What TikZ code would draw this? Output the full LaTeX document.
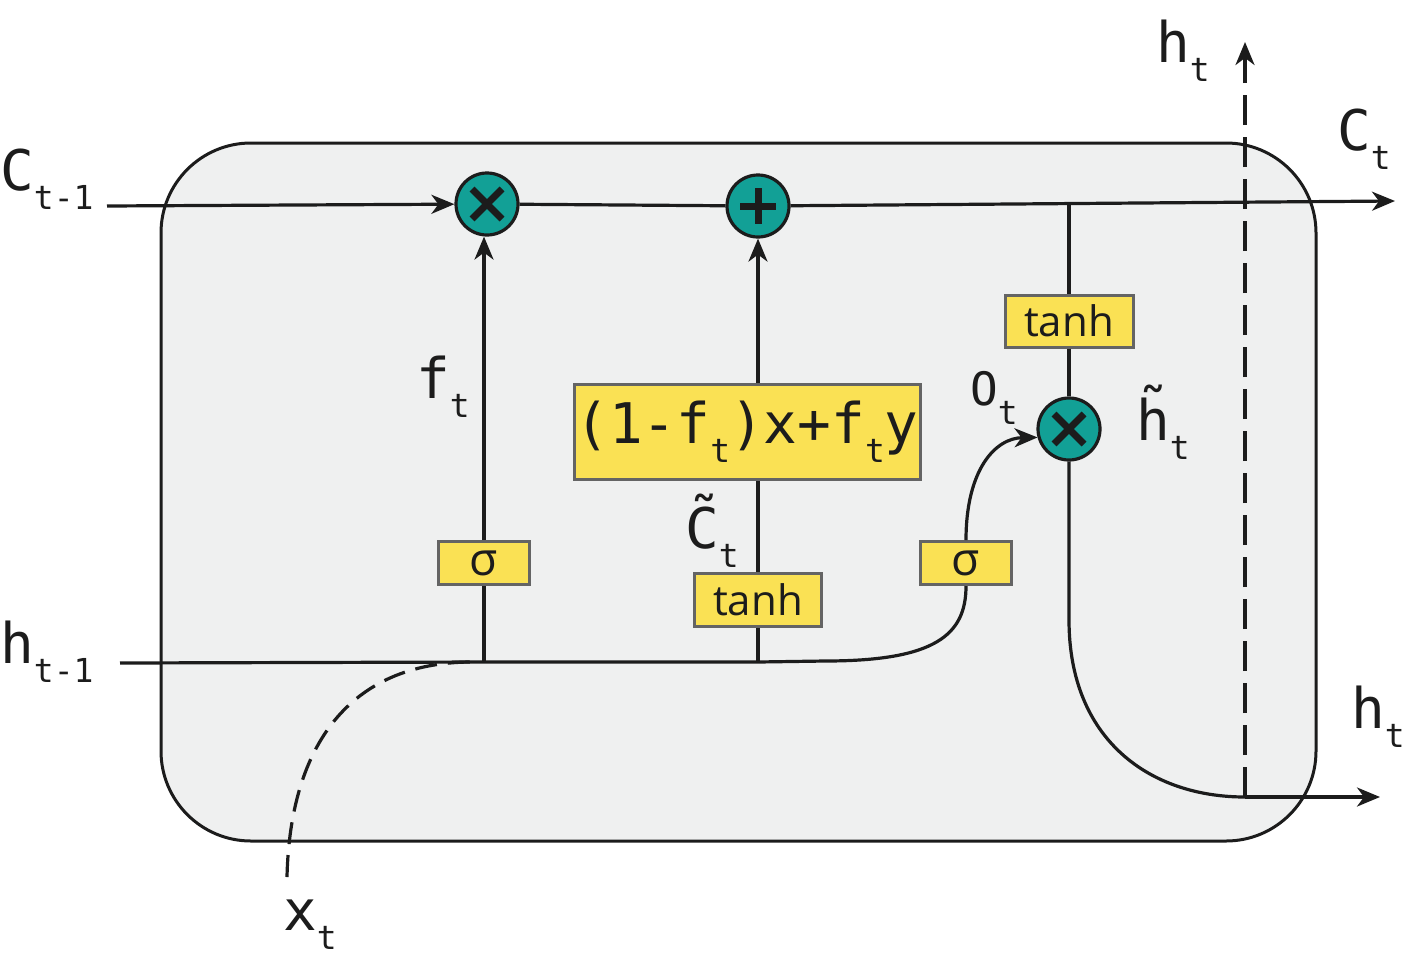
\documentclass[tikz,border=0pt]{standalone}
\usepackage{fontspec}
\setmainfont{Open Sans}
\newfontfamily\monof{DejaVu Sans Mono}
\usetikzlibrary{arrows.meta}
\definecolor{cellbg}{RGB}{239,240,240}
\definecolor{opteal}{RGB}{18,160,150}
\definecolor{actyel}{RGB}{250,225,84}
\definecolor{boxedge}{RGB}{100,100,100}
\definecolor{ink}{RGB}{28,28,28}
\newcommand{\mainch}[1]{{\fontsize{56}{56}\selectfont #1}}
\newcommand{\subch}[1]{\raisebox{-19pt}{\fontsize{33}{33}\selectfont #1}}
\begin{document}
\begin{tikzpicture}[x=1pt,y=-1pt,
  wire/.style={line width=3.2pt, draw=ink},
  arr/.style={-{Stealth[length=23pt,width=19pt,inset=7pt]}},
  opc/.style={circle, fill=opteal, draw=ink, line width=3.2pt, minimum size=62pt, inner sep=0pt},
  opmul/.style={opc, path picture={\draw[ink, line width=7pt]
      (path picture bounding box.center) +(-15,-15) -- +(15,15)
      (path picture bounding box.center) +(-15,15) -- +(15,-15);}},
  opadd/.style={opc, path picture={\draw[ink, line width=7pt]
      (path picture bounding box.center) +(-18,0) -- +(18,0)
      (path picture bounding box.center) +(0,-18) -- +(0,18);}},
  act/.style={rectangle, fill=actyel, draw=boxedge, line width=3pt, inner sep=0pt, text=ink},
  lbl/.style={inner sep=0pt, text=ink, font=\monof, anchor=base west},
]
\useasboundingbox (0,0) rectangle (1420,972);
% cell
\node[draw=ink, line width=3pt, fill=cellbg, rounded corners=90pt,
  minimum width=1155pt, minimum height=698pt, inner sep=0pt] (cell) at (738.5,492) {};

% operators
\node[opmul] (m1) at (487,204) {};
\node[opadd] (p1) at (758,206) {};
\node[opmul] (m2) at (1069,429) {};

% activation boxes
\node[act, minimum width=91pt, minimum height=43pt, font=\fontsize{46}{46}\selectfont] (sig1) at (484,563) {σ};
\node[act, minimum width=91pt, minimum height=43pt, font=\fontsize{46}{46}\selectfont] (sig2) at (966,563) {σ};
\node[act, minimum width=127pt, minimum height=53pt, font=\fontsize{42}{42}\selectfont] (tanh1) at (758,600) {tanh};
\node[act, minimum width=128pt, minimum height=52pt, font=\fontsize{42}{42}\selectfont] (tanh2) at (1069,321) {tanh};
\node[act, minimum width=346pt, minimum height=95pt, font=\monof] (blend) at (747,432)
  {\mainch{(1-f}\subch{t}\mainch{)x+f}\subch{t}\mainch{y}};

% coordinates
\coordinate (cin) at (107,206);
\coordinate (cout) at (1395,201);
\coordinate (hin) at (120,663);
\coordinate (j0) at (470,662);
\coordinate (j1) at (484,662);
\coordinate (j2) at (758,662);
\coordinate (hbend) at (825,661);
\coordinate (xin) at (287,877);
\coordinate (tap) at (1069,205);
\coordinate (turn) at (1069,620);
\coordinate (split) at (1245,797);
\coordinate (hout) at (1380,797);
\coordinate (htop) at (1245,42);

% cell state line
\draw[wire, arr] (cin) -- (m1);
\draw[wire] (m1) -- (p1);
\draw[wire, arr] (p1) -- (cout);

% hidden input line
\draw[wire] (hin) -- (j1) -- (j2) -- (hbend) .. controls (935,661) and (966,635) .. (sig2.south);
\draw[wire, dash pattern=on 22pt off 11pt] (xin) .. controls (290,745) and (350,663) .. (j0);

% forget gate
\draw[wire] (j1) -- (sig1.south);
\draw[wire, arr] (sig1.north) -- (sig1.north |- m1.south);

% candidate
\draw[wire] (j2) -- (tanh1.south);
\draw[wire] (tanh1.north) -- (tanh1.north |- blend.south);
\draw[wire, arr] (blend.north -| p1) -- (p1.south);

% output gate
\draw[wire, arr] (sig2.north) .. controls (966,470) and (995,438) .. (m2.195);
\draw[wire] (tap) -- (tanh2.north);
\draw[wire] (tanh2.south) -- (m2.north);
\draw[wire] (m2.south) -- (turn) .. controls (1069,740) and (1150,797) .. (split);
\draw[wire, arr] (split) -- (hout);
\draw[wire, arr, dash pattern=on 30pt off 12pt] (split) -- (htop);

% labels
\node[lbl] (lcin) at (0,190) {\mainch{C}\subch{t-1}};
\node[lbl] (lhin) at (0,663) {\mainch{h}\subch{t-1}};
\node[lbl] (lx) at (283,930) {\mainch{x}\subch{t}};
\node[lbl] (lf) at (416,398) {\mainch{f}\subch{t}};
\node[lbl] (lct) at (685,548) {\mainch{C̃}\subch{t}};
\node[lbl] (lo) at (970,405) {{\fontsize{46}{46}\selectfont O}\subch{t}};
\node[lbl] (lht) at (1136,440) {\mainch{h̃}\subch{t}};
\node[lbl] (lhtop) at (1156,62) {\mainch{h}\subch{t}};
\node[lbl] (lcout) at (1337,150) {\mainch{C}\subch{t}};
\node[lbl] (lhout) at (1351,728) {\mainch{h}\subch{t}};
\end{tikzpicture}
\end{document}
